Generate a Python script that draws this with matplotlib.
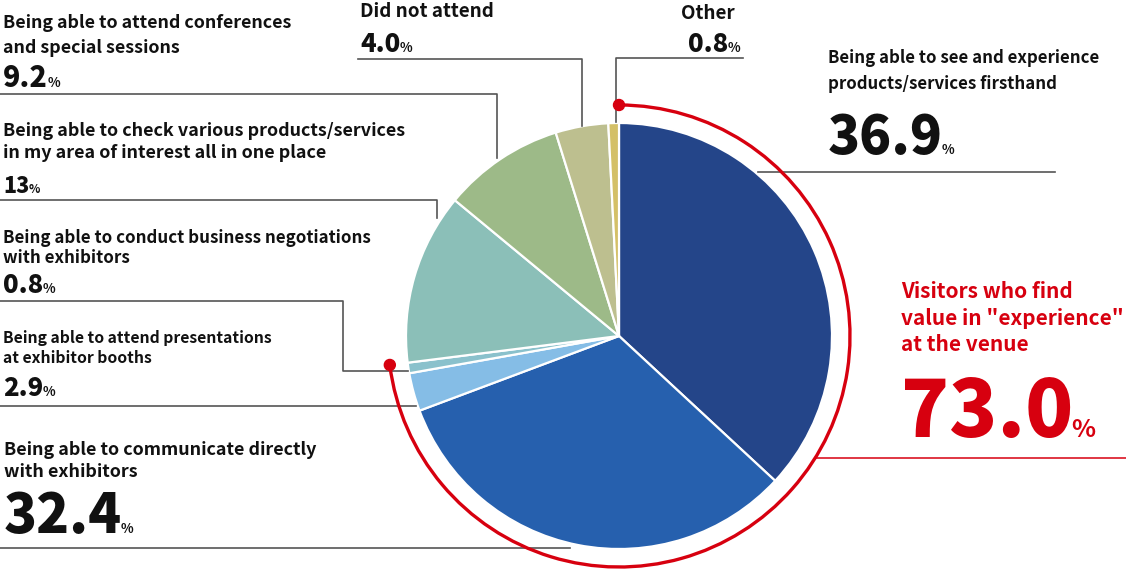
import matplotlib
matplotlib.use("Agg")
import matplotlib.pyplot as plt
from matplotlib.patches import Arc, Circle
import numpy as np

plt.rcParams['font.family'] = ['Noto Sans CJK JP', 'DejaVu Sans']

# data (clockwise from 12 o'clock)
labels = ["Being able to see and experience\nproducts/services firsthand",
          "Being able to communicate directly\nwith exhibitors",
          "Being able to attend presentations\nat exhibitor booths",
          "Being able to conduct business negotiations\nwith exhibitors",
          "Being able to check various products/services\nin my area of interest all in one place",
          "Being able to attend conferences\nand special sessions",
          "Did not attend",
          "Other"]
values = [36.9, 32.4, 2.9, 0.8, 13, 9.2, 4.0, 0.8]
value_text = ["36.9", "32.4", "2.9", "0.8", "13", "9.2", "4.0", "0.8"]
colors = ["#244589", "#2660AE", "#85BDE6", "#8AC1CC",
          "#8BBFB8", "#9DBA88", "#BDBF8F", "#D4C067"]
experience_n = 4   # first four slices = "experience" group
experience_total = "73.0"

W, H = 1126, 569
RED = "#D7000F"
LINE = "#555555"

fig = plt.figure(figsize=(W / 100, H / 100), dpi=100)
ax = fig.add_axes([0, 0, 1, 1])

cx, cy, r = 619, H - 336, 213
ax.pie(values, colors=colors, startangle=90, counterclock=False,
       center=(cx, cy), radius=r,
       wedgeprops=dict(edgecolor="white", linewidth=1.6))
ax.set_xlim(0, W)
ax.set_ylim(0, H)
ax.set_aspect("equal")
ax.axis("off")

# red arc around the "experience" slices
share = sum(values[:experience_n]) / sum(values)
r2 = 231
a_end = 90 - 360 * share
ax.add_patch(Arc((cx, cy), 2 * r2, 2 * r2, theta1=a_end, theta2=90,
                 color=RED, lw=2.4, zorder=5))
for a in (90, a_end):
    ax.add_patch(Circle((cx + r2 * np.cos(np.radians(a)), cy + r2 * np.sin(np.radians(a))),
                        5.5, color=RED, zorder=6))

# leader lines (image coords)
leaders = [
    ([(758, 172), (1055, 172)], LINE),
    ([(815, 458), (1126, 458)], RED),
    ([(743, 58), (616, 58), (616, 122)], LINE),
    ([(358, 59), (582, 59), (582, 126)], LINE),
    ([(0, 94), (497, 94), (497, 158)], LINE),
    ([(0, 200), (437, 200), (437, 218)], LINE),
    ([(0, 301), (343, 301), (343, 371), (408, 371)], LINE),
    ([(0, 406), (416, 406)], LINE),
    ([(0, 548), (570, 548)], LINE),
]
for pts, c in leaders:
    xs = [p[0] for p in pts]
    ys = [H - p[1] for p in pts]
    ax.plot(xs, ys, color=c, lw=1.1 if c == RED else 1.2, zorder=4)

# label layout: x, label baselines, number baseline, label size, number size, % size, align
layout = [
    (828, [63, 89], 154, 12.1, 38, 9.5, "left"),
    (4, [455, 477], 533, 12.9, 39, 9.5, "left"),
    (3, [343, 363], 396, 11.3, 18.5, 9.5, "left"),
    (3, [243, 263], 293, 12.2, 18.5, 9.5, "left"),
    (3, [136, 158], 193, 12.9, 15.5, 8.5, "left"),
    (3, [28, 53], 87, 12.85, 20.5, 9.5, "left"),
    (360, [17], 52, 13.6, 18.5, 9.5, "left"),
    (740, [19], 52, 13.6, 18.5, 9.5, "right"),
]

fig.canvas.draw()
renderer = fig.canvas.get_renderer()


def put_number(x, yb, num, fs, pfs, color, ha):
    t = ax.text(x, H - yb, num, fontsize=fs, fontweight="heavy", color=color,
                ha="left", va="baseline")
    bb = t.get_window_extent(renderer)
    gap = -0.03 * fs
    p = ax.text(bb.x1 + gap, H - yb, "%", fontsize=pfs, fontweight="bold",
                color=color, ha="left", va="baseline")
    if ha == "right":
        pb = p.get_window_extent(renderer)
        shift = pb.x1 - x
        t.set_x(x - shift)
        p.set_x(bb.x1 + gap - shift)


for lab, num, (x, ybs, yn, lfs, nfs, pfs, ha) in zip(labels, value_text, layout):
    for line, yb in zip(lab.split("\n"), ybs):
        tx = x if ha == "left" else x - 5
        ax.text(tx, H - yb, line, fontsize=lfs, fontweight="bold", color="#111111",
                ha=ha, va="baseline")
    put_number(x, yn, num, nfs, pfs, "#111111", ha)

# red callout
red_lines = ["Visitors who find", 'value in "experience"', "at the venue"]
for line, yb in zip(red_lines, [298, 325, 351]):
    ax.text(901, H - yb, line, fontsize=15, fontweight="bold", color=RED,
            ha="left", va="baseline")
put_number(901, 437, experience_total, 57, 18, RED, "left")

fig.savefig("out.png", dpi=100, facecolor="white")
